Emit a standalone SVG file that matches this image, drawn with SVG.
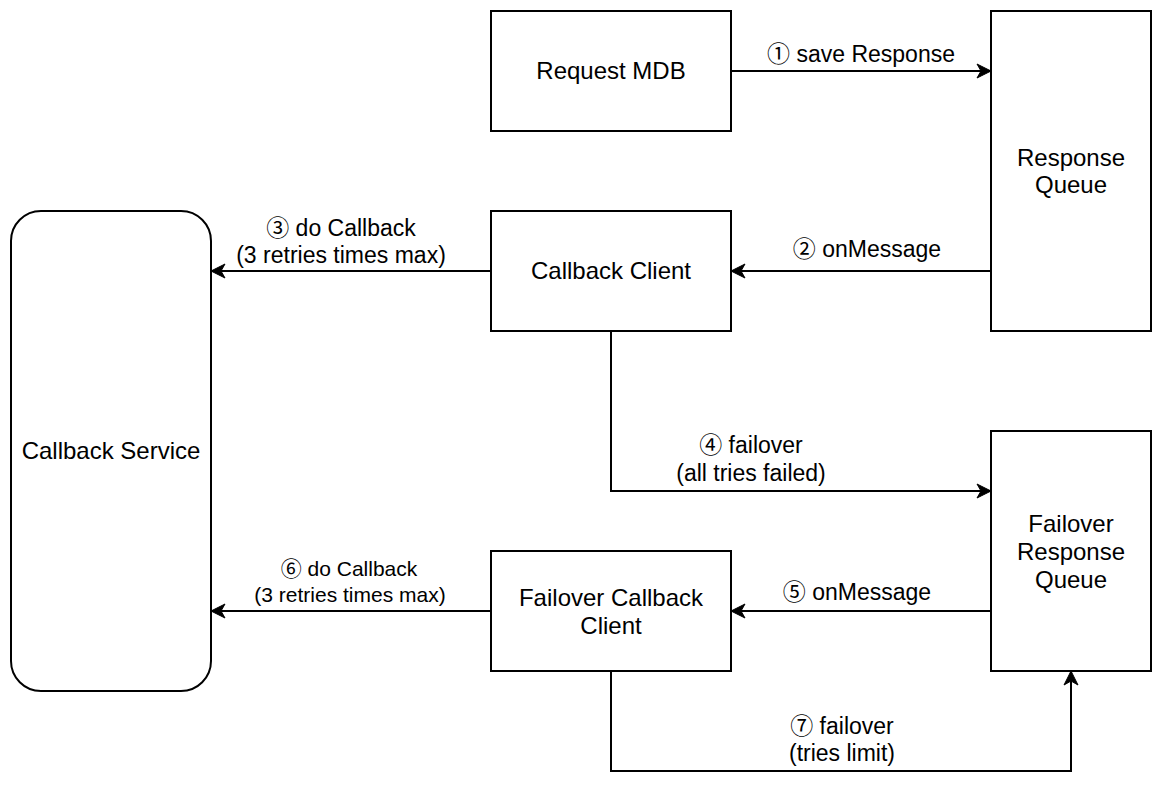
<svg xmlns="http://www.w3.org/2000/svg" width="1162" height="798" viewBox="0 0 1162 798">
<defs>
<style>
.node{fill:#fff;stroke:#000;stroke-width:2}
.nt{font-family:"Liberation Sans","Noto Sans CJK SC",sans-serif;font-size:24px;fill:#000;text-anchor:middle}
.lt{font-family:"Liberation Sans","Noto Sans CJK JP",sans-serif;font-size:23px;fill:#000;text-anchor:middle}
.sm{font-size:21px}
.edge{fill:none;stroke:#000;stroke-width:2;marker-end:url(#arr)}
</style>
<marker id="arr" markerUnits="userSpaceOnUse" markerWidth="16" markerHeight="16" viewBox="0 0 16 16" refX="15" refY="8" orient="auto">
<path d="M1,1 L15,8 L1,15 L5,8 Z" fill="#000" stroke="#000" stroke-width="1"/>
</marker>
</defs>
<rect width="1162" height="798" fill="#fff"/>
<g id="request-mdb">
<rect class="node" x="491" y="11" width="240" height="120"/>
<text class="nt" x="611" y="79">Request MDB</text>
</g>
<g id="response-queue">
<rect class="node" x="991" y="11" width="160" height="320"/>
<text class="nt" x="1071" y="166">Response</text>
<text class="nt" x="1071" y="193">Queue</text>
</g>
<g id="callback-service">
<rect class="node" x="11" y="211" width="200" height="480" rx="30" ry="30"/>
<text class="nt" x="111" y="459">Callback Service</text>
</g>
<g id="callback-client">
<rect class="node" x="491" y="211" width="240" height="120"/>
<text class="nt" x="611" y="279">Callback Client</text>
</g>
<g id="failover-response-queue">
<rect class="node" x="991" y="431" width="160" height="240"/>
<text class="nt" x="1071" y="532">Failover</text>
<text class="nt" x="1071" y="560">Response</text>
<text class="nt" x="1071" y="588">Queue</text>
</g>
<g id="failover-callback-client">
<rect class="node" x="491" y="551" width="240" height="120"/>
<text class="nt" x="611" y="606">Failover Callback</text>
<text class="nt" x="611" y="634">Client</text>
</g>
<g id="connectors">
<path class="edge" d="M731,71 H991"/>
<path class="edge" d="M991,271 H731"/>
<path class="edge" d="M491,271 H211"/>
<path class="edge" d="M611,331 V491 H991"/>
<path class="edge" d="M991,611 H731"/>
<path class="edge" d="M491,611 H211"/>
<path class="edge" d="M611,671 V771 H1071 V671"/>
<text class="lt" x="861" y="62">① save Response</text>
<text class="lt" x="867" y="257">② onMessage</text>
<text class="lt" x="341" y="236">③ do Callback</text>
<text class="lt" x="341" y="263">(3 retries times max)</text>
<text class="lt" x="751" y="453">④ failover</text>
<text class="lt" x="751" y="481">(all tries failed)</text>
<text class="lt" x="857" y="600">⑤ onMessage</text>
<text class="lt sm" x="349" y="576">⑥ do Callback</text>
<text class="lt sm" x="350" y="602">(3 retries times max)</text>
<text class="lt" x="842" y="734">⑦ failover</text>
<text class="lt" x="842" y="761">(tries limit)</text>
</g>
</svg>
